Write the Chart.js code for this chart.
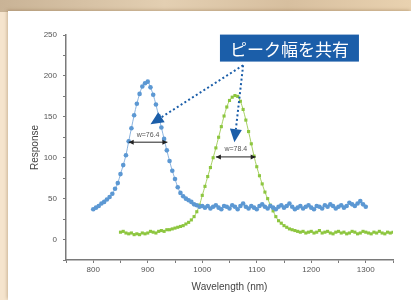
<!DOCTYPE html>
<html lang="ja">
<head>
    <meta charset="UTF-8">
    <title>Peak width</title>
    <script src="https://cdn.jsdelivr.net/npm/chart.js"></script>
    <style>
        html, body { margin: 0; padding: 0; }
        body {
            width: 411px;
            height: 300px;
            overflow: hidden;
            position: relative;
            background: #f5e4cd;
            font-family: Arial, "Liberation Sans", sans-serif;
        }
        /* tan band at the top and the white sheet */
        .band {
            position: absolute; left: 0; top: 0; width: 411px; height: 12px;
            background: linear-gradient(to right, #c9b396, #e3cfb2 40%, #d7bf9f 70%, #e9d2b0);
        }
        .sheet {
            position: absolute; left: 8px; top: 11px; width: 403px; height: 289px;
            background: #ffffff;
            box-shadow: -1px -1px 3px rgba(120, 90, 50, 0.35);
        }
        .wrap { position: absolute; left: 0; top: 0; width: 411px; height: 300px; }
    </style>
</head>
<body>
    <div class="band"></div>
    <div class="sheet"></div>
    <div class="wrap"><canvas id="chart"></canvas></div>
    <script>
        // wavelengths (nm) and responses
        const blueX = [800, 805, 810, 815, 820, 825, 830, 835, 840, 845,
                       850, 855, 860, 865, 870, 875, 880, 885, 890, 895,
                       900, 905, 910, 915, 920, 925, 930, 935, 940, 945,
                       950, 955, 960, 965, 970, 975, 980, 985, 990, 995,
                       1000, 1005, 1010, 1015, 1020, 1025, 1030, 1035, 1040, 1045,
                       1050, 1055, 1060, 1065, 1070, 1075, 1080, 1085, 1090, 1095,
                       1100, 1105, 1110, 1115, 1120, 1125, 1130, 1135, 1140, 1145,
                       1150, 1155, 1160, 1165, 1170, 1175, 1180, 1185, 1190, 1195,
                       1200, 1205, 1210, 1215, 1220, 1225, 1230, 1235, 1240, 1245,
                       1250, 1255, 1260, 1265, 1270, 1275, 1280, 1285, 1290, 1295, 1300];
        const blueY = [37, 39, 41, 44, 46, 49, 52, 56, 62, 69,
                       80, 91, 103, 120, 136, 152, 166, 178, 187, 191,
                       193, 186, 177, 165, 151, 137, 123, 109, 96, 84,
                       74, 64, 57, 53, 50, 48, 46, 43, 42, 40,
                       41, 39, 41, 38, 40, 42, 39, 37, 41, 40,
                       38, 42, 40, 37, 41, 44, 40, 38, 41, 39,
                       37, 41, 43, 40, 38, 41, 39, 37, 40, 42,
                       39, 41, 44, 40, 37, 39, 41, 38, 40, 42,
                       39, 37, 41, 40, 38, 42, 40, 43, 41, 38,
                       40, 42, 39, 41, 45, 43, 41, 44, 47, 43, 40];

        const greenX = [850, 855, 860, 865, 870, 875, 880, 885, 890, 895,
                        900, 905, 910, 915, 920, 925, 930, 935, 940, 945,
                        950, 955, 960, 965, 970, 975, 980, 985, 990, 995,
                        1000, 1005, 1010, 1015, 1020, 1025, 1030, 1035, 1040, 1045,
                        1050, 1055, 1060, 1065, 1070, 1075, 1080, 1085, 1090, 1095,
                        1100, 1105, 1110, 1115, 1120, 1125, 1130, 1135, 1140, 1145,
                        1150, 1155, 1160, 1165, 1170, 1175, 1180, 1185, 1190, 1195,
                        1200, 1205, 1210, 1215, 1220, 1225, 1230, 1235, 1240, 1245,
                        1250, 1255, 1260, 1265, 1270, 1275, 1280, 1285, 1290, 1295,
                        1300, 1305, 1310, 1315, 1320, 1325, 1330, 1335, 1340, 1345, 1350];
        const greenY = [9, 10, 8, 7, 8, 6, 7, 6, 8, 7,
                        8, 10, 9, 8, 10, 11, 10, 12, 12, 13,
                        14, 15, 16, 17, 19, 21, 24, 28, 34, 42,
                        54, 65, 77, 88, 100, 112, 125, 138, 151, 162,
                        170, 174, 176, 175, 169, 159, 146, 132, 117, 102,
                        89, 78, 68, 58, 50, 42, 35, 28, 23, 20,
                        17, 15, 13, 12, 11, 10, 9, 10, 8, 9,
                        10, 8, 9, 11, 8, 9, 10, 8, 7, 9,
                        10, 8, 9, 7, 8, 10, 9, 7, 8, 10,
                        9, 8, 7, 9, 8, 10, 8, 7, 9, 8, 9];

        const xTicks = [800, 900, 1000, 1100, 1200, 1300];
        const yTicks = [0, 50, 100, 150, 200, 250];

        // annotations (data units)
        const calloutText = 'ピーク幅を共有';
        const calloutCenter = [1160, 234];
        const calloutFoot = [1075, 213];
        const arrowTips = [[905, 141], [1059, 119]];
        const widthLabels = ['w=76.4', 'w=78.4'];
        const widthFrom = [865, 1025];
        const widthTo = [936, 1098];
        const widthLevel = [119, 101];

        const annotations = {
            id: 'annotations',
            afterDatasetsDraw(chart) {
                const ctx = chart.ctx;
                const xs = chart.scales.x, ys = chart.scales.y;
                const px = v => xs.getPixelForValue(v);
                const py = v => ys.getPixelForValue(v);
                const navy = '#1b5ea9';
                ctx.save();

                // FWHM markers
                widthLabels.forEach((label, i) => {
                    const x1 = px(widthFrom[i]), x2 = px(widthTo[i]), y = py(widthLevel[i]);
                    ctx.strokeStyle = '#222';
                    ctx.fillStyle = '#222';
                    ctx.lineWidth = 1;
                    ctx.beginPath();
                    ctx.moveTo(x1, y); ctx.lineTo(x2, y); ctx.stroke();
                    [[x1, 1], [x2, -1]].forEach(([x, d]) => {
                        ctx.beginPath();
                        ctx.moveTo(x, y);
                        ctx.lineTo(x + 5 * d, y - 2.5);
                        ctx.lineTo(x + 5 * d, y + 2.5);
                        ctx.closePath();
                        ctx.fill();
                    });
                    ctx.fillStyle = '#555';
                    ctx.font = '7px Arial';
                    ctx.textAlign = 'center';
                    ctx.textBaseline = 'bottom';
                    ctx.fillText(label, (x1 + x2) / 2, y - 4);
                });

                // dotted leaders and arrowheads
                const fx = px(calloutFoot[0]), fy = py(calloutFoot[1]);
                arrowTips.forEach(([tx, ty]) => {
                    const x = px(tx), y = py(ty);
                    const ang = Math.atan2(y - fy, x - fx);
                    const len = 13, half = 6;
                    const bx = x - len * Math.cos(ang), by = y - len * Math.sin(ang);
                    ctx.strokeStyle = navy;
                    ctx.lineWidth = 2;
                    ctx.setLineDash([2, 2.5]);
                    ctx.beginPath();
                    ctx.moveTo(fx, fy); ctx.lineTo(bx, by); ctx.stroke();
                    ctx.setLineDash([]);
                    ctx.fillStyle = navy;
                    ctx.beginPath();
                    ctx.moveTo(x, y);
                    ctx.lineTo(bx + half * Math.sin(ang), by - half * Math.cos(ang));
                    ctx.lineTo(bx - half * Math.sin(ang), by + half * Math.cos(ang));
                    ctx.closePath();
                    ctx.fill();
                });

                // callout box
                ctx.font = '17px "Noto Sans CJK JP", sans-serif';
                const tw = ctx.measureText(calloutText).width;
                const cx = px(calloutCenter[0]), cy = py(calloutCenter[1]);
                const w = tw + 20, h = 27;
                ctx.fillStyle = navy;
                ctx.fillRect(cx - w / 2, cy - h / 2, w, h);
                ctx.fillStyle = '#ffffff';
                ctx.textAlign = 'center';
                ctx.textBaseline = 'middle';
                ctx.fillText(calloutText, cx, cy + 1);
                ctx.restore();
            }
        };

        const axisGray = '#7a7a7a';
        const tickFont = { family: 'Arial', size: 8 };

        new Chart(document.getElementById('chart'), {
            type: 'scatter',
            data: {
                datasets: [
                    {
                        label: 'A',
                        data: blueX.map((x, i) => ({ x: x, y: blueY[i] })),
                        showLine: true,
                        tension: 0.3,
                        borderColor: 'rgba(110, 160, 215, 0.8)',
                        borderWidth: 1,
                        backgroundColor: '#5c98d3',
                        pointRadius: 2.3,
                        pointBorderWidth: 0
                    },
                    {
                        label: 'B',
                        data: greenX.map((x, i) => ({ x: x, y: greenY[i] })),
                        showLine: true,
                        tension: 0.3,
                        borderColor: 'rgba(150, 200, 70, 0.85)',
                        borderWidth: 1,
                        backgroundColor: '#8dc63f',
                        pointStyle: 'rect',
                        pointRadius: 2.2,
                        pointBorderWidth: 0
                    }
                ]
            },
            options: {
                responsive: true,
                maintainAspectRatio: false,
                animation: false,
                layout: { padding: { left: 29, right: 18, top: 35, bottom: 7 } },
                plugins: {
                    legend: { display: false },
                    tooltip: { enabled: false }
                },
                scales: {
                    x: {
                        type: 'linear',
                        min: 750,
                        max: 1350,
                        afterBuildTicks: s => { s.ticks = []; for (let v = 750; v <= 1350; v += 50) s.ticks.push({ value: v }); },
                        ticks: {
                            callback: v => xTicks.includes(v) ? v : '',
                            autoSkip: false,
                            maxRotation: 0,
                            color: '#555',
                            font: tickFont,
                            padding: 2
                        },
                        grid: { drawOnChartArea: false, tickLength: 3, color: axisGray },
                        border: { color: axisGray, width: 1.5 },
                        title: { display: true, text: 'Wavelength (nm)', color: '#444', font: { family: 'Arial', size: 10 }, padding: { top: 3, bottom: 0 } },
                        afterFit: s => { s.height = 33; }
                    },
                    y: {
                        min: -25,
                        max: 250,
                        afterBuildTicks: s => { s.ticks = []; for (let v = -25; v <= 250; v += 25) s.ticks.push({ value: v }); },
                        ticks: {
                            callback: v => yTicks.includes(v) ? v : '',
                            autoSkip: false,
                            color: '#555',
                            font: tickFont,
                            padding: 6
                        },
                        grid: { drawOnChartArea: false, tickLength: 3, color: axisGray },
                        border: { color: axisGray, width: 1.5 },
                        title: { display: true, text: 'Response', color: '#444', font: { family: 'Arial', size: 10 }, padding: 0 },
                        afterFit: s => { s.width = 37; }
                    }
                }
            },
            plugins: [annotations]
        });
    </script>
</body>
</html>
